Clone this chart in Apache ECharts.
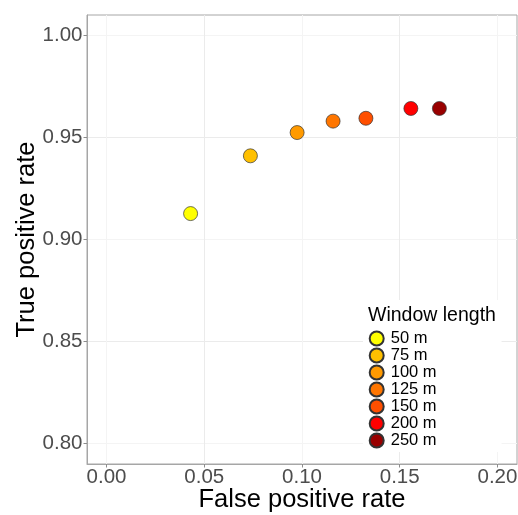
<!DOCTYPE html>
<html>
<head>
<meta charset="utf-8">
<script src="https://cdn.jsdelivr.net/npm/echarts@6/dist/echarts.min.js"></script>
<style>html,body{margin:0;padding:0;background:#fff}#c{width:518px;height:515px}</style>
</head>
<body>
<div id="c"></div>
<script>
const windowLengths = ['50 m', '75 m', '100 m', '125 m', '150 m', '200 m', '250 m'];
const falsePositiveRate = [0.0430, 0.0736, 0.0975, 0.1159, 0.1327, 0.1557, 0.1703];
const truePositiveRate = [0.9127, 0.9410, 0.9524, 0.9580, 0.9594, 0.9642, 0.9642];
const pointColors = ['#FFFF00', '#FFC000', '#FF9A00', '#FF7600', '#FF4F00', '#FF0000', '#990000'];
const xTicks = [0.00, 0.05, 0.10, 0.15, 0.20];
const yTicks = [0.80, 0.85, 0.90, 0.95, 1.00];

const FONT = '"Liberation Sans", Arial, sans-serif';
const chart = echarts.init(document.getElementById('c'), null, {renderer: 'canvas'});

const series = windowLengths.map((name, i) => ({
  name: name,
  type: 'scatter',
  symbol: 'circle',
  symbolSize: 14,
  data: [[falsePositiveRate[i], truePositiveRate[i]]],
  itemStyle: {color: pointColors[i], borderColor: '#333333', borderWidth: 0.7, opacity: 1},
  emphasis: {disabled: true},
  z: 3
}));

function axisCommon(ticks) {
  return {
    type: 'value',
    interval: 0.025,
    axisLine: {show: true, onZero: false, lineStyle: {color: '#A6A6A6', width: 1}},
    axisTick: {show: true, customValues: ticks, length: 3.5, lineStyle: {color: '#8C8C8C', width: 1}},
    axisLabel: {
      customValues: ticks,
      color: '#4D4D4D',
      fontSize: 20.5,
      fontFamily: FONT,
      formatter: v => Number(v).toFixed(2)
    },
    splitLine: {show: true, lineStyle: {color: ['#F4F4F4', '#EBEBEB'], width: 1}},
    nameTextStyle: {color: '#000', fontSize: 25.5, fontFamily: FONT},
    nameLocation: 'middle',
    nameMoveOverlap: false
  };
}

const xAxis = Object.assign(axisCommon(xTicks), {
  min: -0.01, max: 0.21,
  name: 'False positive rate',
  nameGap: 23
});
xAxis.axisLabel.margin = 3;

const yAxis = Object.assign(axisCommon(yTicks), {
  min: 0.79, max: 1.01,
  name: 'True positive rate',
  nameGap: 47
});
yAxis.axisLabel.margin = 4.5;

chart.setOption({
  animation: false,
  backgroundColor: '#fff',
  textStyle: {fontFamily: FONT},
  grid: {left: 87, top: 15, right: 1, bottom: 51, show: true, borderColor: '#A6A6A6', borderWidth: 1, backgroundColor: 'transparent', containLabel: false, outerBoundsMode: 'none'},
  xAxis: xAxis,
  yAxis: yAxis,
  title: {
    text: 'Window length',
    left: 368, top: 306, padding: 0,
    textStyle: {color: '#000', fontSize: 19.5, fontWeight: 'normal', fontFamily: FONT},
    z: 20
  },
  legend: {
    data: windowLengths,
    orient: 'vertical',
    left: 363, top: 300,
    padding: [30, 65, 3, 5.7],
    itemWidth: 14, itemHeight: 14, itemGap: 0,
    icon: 'circle',
    backgroundColor: '#fff',
    textStyle: {color: '#000', fontSize: 16.5, fontFamily: FONT, padding: [0, 0, 0, 2]},
    selectedMode: false,
    z: 10
  },
  series: series
});
</script>
</body>
</html>
